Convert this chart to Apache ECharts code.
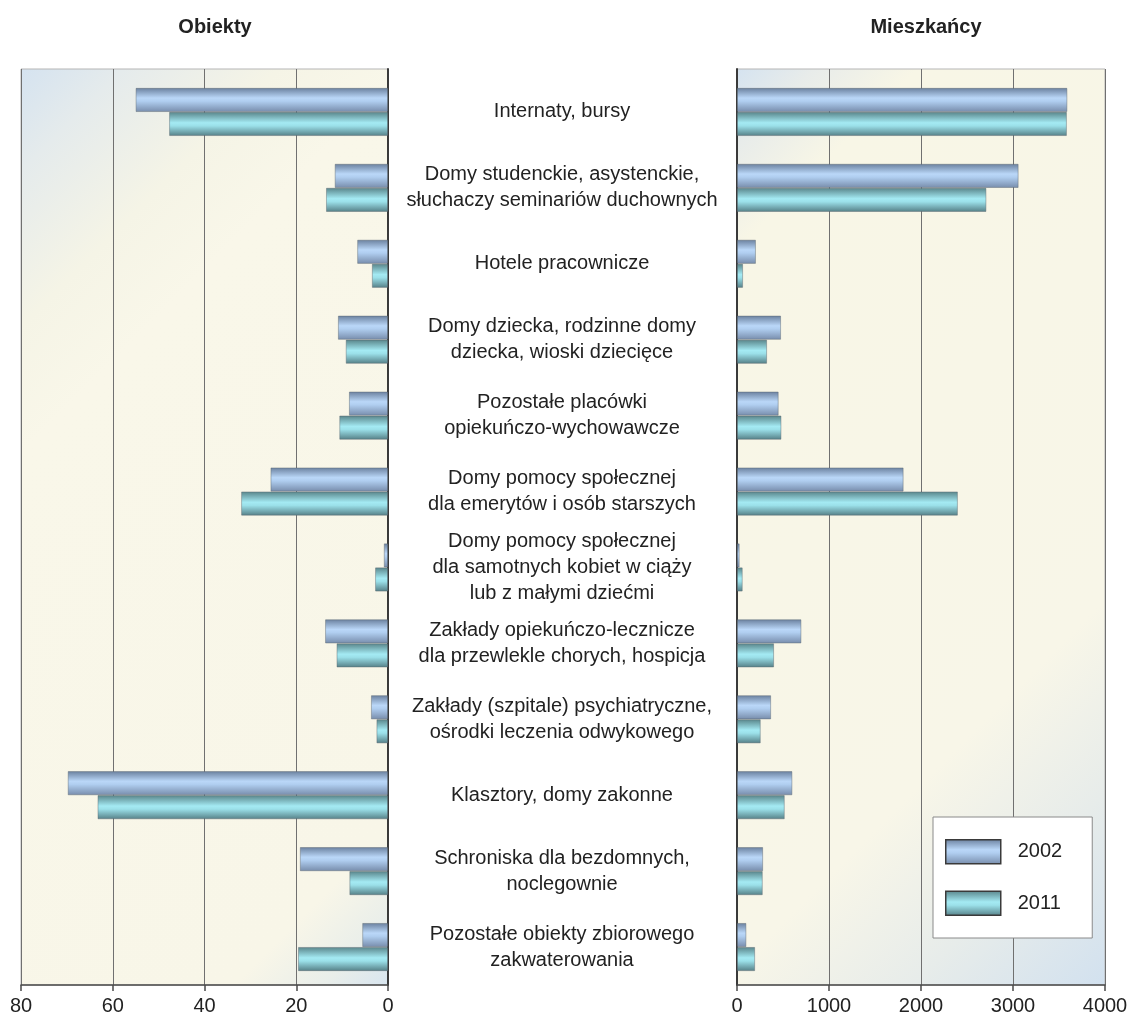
<!DOCTYPE html>
<html>
<head>
<meta charset="utf-8">
<script src="https://cdn.jsdelivr.net/npm/echarts@6/dist/echarts.min.js"></script>
<style>
html,body{margin:0;padding:0;background:#fff;}
#chart{width:1129px;height:1018px;}
</style>
</head>
<body>
<div id="chart"></div>
<script>
const categories = [
  "Internaty, bursy",
  "Domy studenckie, asystenckie,\nsłuchaczy seminariów duchownych",
  "Hotele pracownicze",
  "Domy dziecka, rodzinne domy\ndziecka, wioski dziecięce",
  "Pozostałe placówki\nopiekuńczo-wychowawcze",
  "Domy pomocy społecznej\ndla emerytów i osób starszych",
  "Domy pomocy społecznej\ndla samotnych kobiet w ciąży\nlub z małymi dziećmi",
  "Zakłady opiekuńczo-lecznicze\ndla przewlekle chorych, hospicja",
  "Zakłady (szpitale) psychiatryczne,\nośrodki leczenia odwykowego",
  "Klasztory, domy zakonne",
  "Schroniska dla bezdomnych,\nnoclegownie",
  "Pozostałe obiekty zbiorowego\nzakwaterowania"
];
const seriesNames = ["2002", "2011"];
const obiekty2002 = [55, 11.6, 6.7, 10.9, 8.5, 25.6, 0.9, 13.7, 3.7, 69.8, 19.2, 5.6];
const obiekty2011 = [47.7, 13.5, 3.5, 9.2, 10.6, 32, 2.8, 11.2, 2.5, 63.3, 8.4, 19.6];
const mieszkancy2002 = [3590, 3060, 205, 478, 452, 1810, 28, 699, 370, 601, 283, 101];
const mieszkancy2011 = [3585, 2710, 65, 326, 482, 2400, 61, 402, 257, 518, 279, 196];
const obiektyTicks = [0, 20, 40, 60, 80];
const mieszkancyTicks = [0, 1000, 2000, 3000, 4000];
const titles = ["Obiekty", "Mieszkańcy"];

const FONT = "'Liberation Sans', Arial, sans-serif";
const G = echarts.graphic;

function barColor(i) {
  if (i === 0) {
    return new G.LinearGradient(0, 0, 0, 1, [
      {offset: 0, color: '#6a809e'},
      {offset: 0.42, color: '#bad7f8'},
      {offset: 0.55, color: '#b0cef0'},
      {offset: 1, color: '#778cab'}
    ]);
  }
  return new G.LinearGradient(0, 0, 0, 1, [
    {offset: 0, color: '#588489'},
    {offset: 0.45, color: '#a4eaf3'},
    {offset: 0.58, color: '#9be0e9'},
    {offset: 1, color: '#557f86'}
  ]);
}

const leftBg = new G.LinearGradient(21, 69, 21 + 641.5, 69 + 641.5, [
  {offset: 0, color: '#d5e3f0'},
  {offset: 0.08, color: '#e5ebec'},
  {offset: 0.2, color: '#f5f4e6'},
  {offset: 0.3, color: '#f9f7e9'},
  {offset: 0.88, color: '#f8f6e8'},
  {offset: 0.95, color: '#e9eeea'},
  {offset: 1, color: '#d8e5ef'}
], true);
const rightBg = new G.LinearGradient(737, 69, 737 + 642, 69 + 642, [
  {offset: 0, color: '#d5e3f0'},
  {offset: 0.06, color: '#e8ecea'},
  {offset: 0.14, color: '#f8f6e6'},
  {offset: 0.7, color: '#f8f6e8'},
  {offset: 0.85, color: '#e7ecea'},
  {offset: 1, color: '#d2e1ef'}
], true);

const chart = echarts.init(document.getElementById('chart'), null, {renderer: 'canvas'});

function xAxisCfg(gridIndex, ticks, inverse, visible) {
  return {
    gridIndex: gridIndex,
    show: visible,
    type: 'value',
    inverse: inverse,
    min: ticks[0],
    max: ticks[ticks.length - 1],
    interval: ticks[1] - ticks[0],
    position: 'bottom',
    axisLine: {show: true, lineStyle: {color: '#4a4a4a', width: 1.5}},
    axisTick: {show: true, length: 6, lineStyle: {color: '#4a4a4a', width: 1.5}},
    axisLabel: {fontFamily: FONT, fontSize: 20, color: '#222', margin: 11,
                formatter: function (v) { return String(v); }},
    splitLine: {show: visible, lineStyle: {color: '#707070', width: 1}}
  };
}

function barSeries(name, data, idx, axisIdx) {
  return {
    name: name,
    type: 'bar',
    xAxisIndex: axisIdx,
    yAxisIndex: axisIdx,
    data: data,
    barWidth: 24,
    barGap: '0%',
    itemStyle: {color: barColor(idx), borderColor: 'rgba(90,100,110,0.55)', borderWidth: 0.8},
    emphasis: {disabled: true}
  };
}

const gridCommon = {outerBoundsMode: 'none', containLabel: false};

chart.setOption({
  animation: false,
  backgroundColor: '#ffffff',
  title: [
    {text: titles[0], left: 210, top: 12, textAlign: 'center',
     textStyle: {fontFamily: FONT, fontSize: 20, fontWeight: 'bold', color: '#222'}},
    {text: titles[1], left: 921, top: 12, textAlign: 'center',
     textStyle: {fontFamily: FONT, fontSize: 20, fontWeight: 'bold', color: '#222'}}
  ],
  legend: {
    data: seriesNames,
    orient: 'vertical',
    left: 933,
    top: 817,
    itemWidth: 55,
    itemHeight: 24,
    itemGap: 26,
    padding: [22, 30, 22, 12],
    backgroundColor: '#ffffff',
    borderColor: '#8a8a8a',
    borderWidth: 1,
    icon: 'rect',
    itemStyle: {borderColor: '#3a3a3a', borderWidth: 1.5},
    textStyle: {fontFamily: FONT, fontSize: 20, color: '#222', lineHeight: 24, padding: [0, 0, 0, 12]},
    selectedMode: false
  },
  grid: [
    Object.assign({left: 21, top: 69, width: 367, height: 916, show: true, backgroundColor: leftBg,
     borderColor: '#b5b5b5', borderWidth: 1}, gridCommon),
    Object.assign({left: 737, top: 69, width: 368, height: 916, show: true, backgroundColor: rightBg,
     borderColor: '#b5b5b5', borderWidth: 1}, gridCommon),
    Object.assign({left: 21, top: 74, width: 367, height: 911}, gridCommon),
    Object.assign({left: 737, top: 74, width: 368, height: 911}, gridCommon)
  ],
  xAxis: [
    xAxisCfg(0, obiektyTicks, true, true),
    xAxisCfg(1, mieszkancyTicks, false, true),
    xAxisCfg(2, obiektyTicks, true, false),
    xAxisCfg(3, mieszkancyTicks, false, false)
  ],
  yAxis: [
    {
      gridIndex: 0, type: 'value', min: 0, max: 1, position: 'right',
      axisLine: {show: true, lineStyle: {color: '#3a3a3a', width: 2}},
      axisTick: {show: false}, axisLabel: {show: false}, splitLine: {show: false}
    },
    {
      gridIndex: 1, type: 'value', min: 0, max: 1, position: 'left',
      axisLine: {show: true, lineStyle: {color: '#3a3a3a', width: 2}},
      axisTick: {show: false}, axisLabel: {show: false}, splitLine: {show: false}
    },
    {
      gridIndex: 2, type: 'category', data: categories, inverse: true, position: 'right',
      axisLine: {show: false},
      axisTick: {show: false},
      axisLabel: {interval: 0, align: 'center', margin: 174, fontFamily: FONT, fontSize: 20,
                  lineHeight: 26, color: '#222'},
      splitLine: {show: false}
    },
    {
      gridIndex: 3, type: 'category', data: categories, inverse: true, position: 'left',
      axisLine: {show: false},
      axisTick: {show: false},
      axisLabel: {show: false},
      splitLine: {show: false}
    }
  ],
  series: [
    barSeries(seriesNames[0], obiekty2002, 0, 2),
    barSeries(seriesNames[1], obiekty2011, 1, 2),
    barSeries(seriesNames[0], mieszkancy2002, 0, 3),
    barSeries(seriesNames[1], mieszkancy2011, 1, 3)
  ]
});
</script>
</body>
</html>
